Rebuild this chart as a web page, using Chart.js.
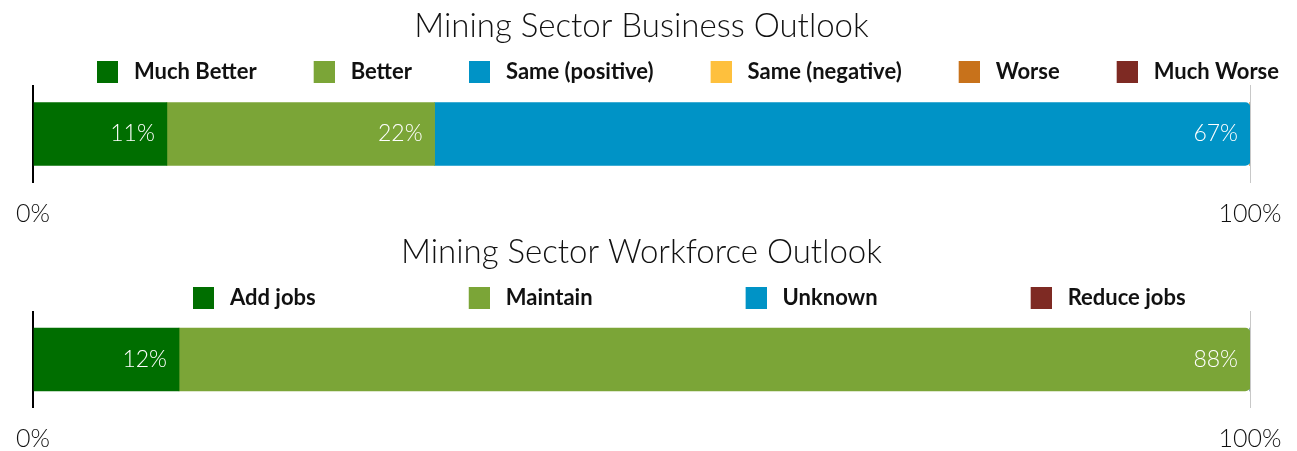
<!DOCTYPE html>
<html><head><meta charset="utf-8">
<script src="https://cdn.jsdelivr.net/npm/chart.js@4.4.0/dist/chart.umd.min.js"></script>
<style>
html,body{margin:0;padding:0;background:#fff;}
canvas{display:block;}
</style></head><body>
<canvas id="c1" width="1297" height="226"></canvas>
<canvas id="c2" width="1297" height="225"></canvas>
<script>
// ---- data ----
const businessTitle = 'Mining Sector Business Outlook';
const businessCategories = ['Much Better', 'Better', 'Same (positive)', 'Same (negative)', 'Worse', 'Much Worse'];
const businessValues = [11, 22, 67, 0, 0, 0];

const workforceTitle = 'Mining Sector Workforce Outlook';
const workforceCategories = ['Add jobs', 'Maintain', 'Unknown', 'Reduce jobs'];
const workforceValues = [12, 88, 0, 0];

const axisTicks = [0, 100];

// ---- styles ----
const businessColors = ['#006e00', '#7ba537', '#0093c6', '#fec03d', '#c8721b', '#7e2a23'];
const workforceColors = ['#006e00', '#7ba537', '#0093c6', '#7e2a23'];

function legendSwatch(color, wc) {
  const c = document.createElement('canvas');
  c.width = Math.round(wc); c.height = 22;
  const g = c.getContext('2d');
  g.fillStyle = color;
  g.fillRect(c.width - 21, 0, 21, 22);
  return c;
}

const valueLabels = {
  id: 'valueLabels',
  afterDatasetsDraw(chart) {
    const ctx = chart.ctx;
    ctx.save();
    ctx.font = '300 23px Lato';
    ctx.fillStyle = '#ffffff';
    ctx.textAlign = 'right';
    ctx.textBaseline = 'middle';
    chart.data.datasets.forEach((ds, i) => {
      const meta = chart.getDatasetMeta(i);
      meta.data.forEach((el, j) => {
        const v = ds.data[j];
        if (!v) return;
        ctx.fillText(v + '%', el.x - 12, el.y);
      });
    });
    ctx.restore();
  }
};

const layoutTweak = {
  id: 'layoutTweak',
  afterLayout(chart, args, opts) {
    const lg = chart.legend;
    const dx = opts.legendLeft - lg.left;
    lg.left += dx; lg.right += dx;
    const dy = opts.legendTop - lg.top;
    lg.top += dy; lg.bottom += dy;
    const t = chart.titleBlock;
    if (t) { t.left = chart.chartArea.left; t.right = chart.chartArea.right; }
  }
};

function makeChart(id, title, cats, values, colors, itemGap) {
  const fs = 22;
  const boxGap = 16;
  const p = 5;
  const Wc = Math.round(((itemGap - p + 21) * 2 - 2 * (boxGap - fs / 2)) / 2);
  const W = Wc + 2 * (boxGap - fs / 2);
  let lastNZ = 0;
  values.forEach((v, i) => { if (v) lastNZ = i; });

  return new Chart(document.getElementById(id), {
    type: 'bar',
    data: {
      labels: [''],
      datasets: cats.map((c, i) => ({
        label: c,
        data: [values[i]],
        backgroundColor: colors[i],
        borderWidth: 0,
        barThickness: 63,
        borderSkipped: false,
        borderRadius: i === lastNZ ? {topLeft: 0, bottomLeft: 0, topRight: 5, bottomRight: 5} : 0
      }))
    },
    options: {
      indexAxis: 'y',
      responsive: false,
      animation: false,
      events: [],
      layout: {padding: 0},
      scales: {
        x: {
          type: 'linear', stacked: true, min: 0, max: 100,
          afterBuildTicks: s => { s.ticks = axisTicks.map(v => ({value: v})); },
          afterFit: s => { s.height = 43; s.paddingLeft = 0; s.paddingRight = 0; },
          grid: {
            color: c => (c.tick && c.tick.value === 0) ? '#000000' : '#c8c8c8',
            lineWidth: c => (c.tick && c.tick.value === 0) ? 2 : 1,
            drawTicks: false
          },
          border: {display: false},
          ticks: {
            padding: 18, color: '#111111', autoSkip: false, maxRotation: 0,
            font: {family: 'Lato', size: 25, weight: 300, lineHeight: 1},
            callback: v => v + '%'
          }
        },
        y: {
          type: 'category', stacked: true,
          afterFit: s => { s.width = 33; },
          ticks: {display: false}, grid: {display: false}, border: {display: false}
        },
        yRight: {
          axis: 'y', type: 'category', position: 'right',
          afterFit: s => { s.width = 47; },
          ticks: {display: false}, grid: {display: false}, border: {display: false}
        }
      },
      plugins: {
        title: {
          display: true, text: title, color: '#111111',
          font: {family: 'Lato', size: 33, weight: 300, lineHeight: 1.2},
          padding: {top: 6.7, bottom: 1.7}
        },
        legend: {
          display: true, position: 'top', align: 'start',
          labels: {
            usePointStyle: true, pointStyleWidth: W, padding: p, color: '#111111',
            font: {family: 'Lato', size: fs, weight: 'bold'},
            generateLabels(chart) {
              const items = Chart.defaults.plugins.legend.labels.generateLabels(chart);
              items.forEach((it, i) => { it.pointStyle = legendSwatch(colors[i], Wc); });
              return items;
            }
          }
        },
        tooltip: {enabled: false},
        layoutTweak: {legendLeft: 40, legendTop: 55.5}
      }
    },
    plugins: [valueLabels, layoutTweak]
  });
}

Promise.all([
  document.fonts.load('300 33px Lato'),
  document.fonts.load('bold 22px Lato'),
  document.fonts.load('300 23px Lato')
]).catch(() => {}).then(() => {
  makeChart('c1', businessTitle, businessCategories, businessValues, businessColors, 57);
  makeChart('c2', workforceTitle, workforceCategories, workforceValues, workforceColors, 153);
});
</script>
</body></html>
